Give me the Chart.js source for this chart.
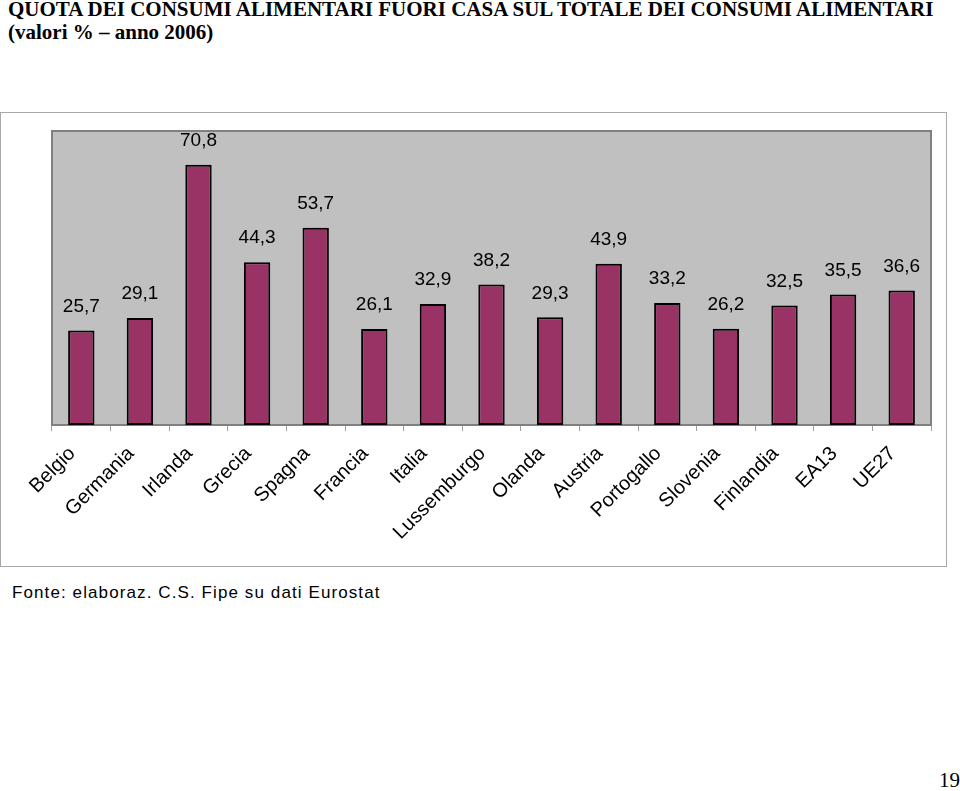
<!DOCTYPE html>
<html>
<head>
<meta charset="utf-8">
<script src="https://cdn.jsdelivr.net/npm/chart.js@4.4.1/dist/chart.umd.min.js"></script>
<style>
    html, body { margin: 0; padding: 0; background: #fff; }
    body { width: 960px; height: 791px; position: relative; overflow: hidden; }
    .title {
        position: absolute; left: 8px; top: -2px;
        font-family: "Liberation Serif", "Times New Roman", serif;
        font-weight: bold; font-size: 21px; line-height: 23px; color: #000;
        white-space: nowrap;
    }
    .box {
        position: absolute; left: 0px; top: 112px; width: 945px; height: 453px;
        border: 1px solid #a8a8a8;
    }
    .box canvas { display: block; }
    .fonte {
        position: absolute; left: 12px; top: 583px;
        font-family: "Liberation Sans", Arial, sans-serif;
        font-size: 17px; letter-spacing: 1.1px; color: #000; white-space: nowrap;
    }
    .pagina {
        position: absolute; left: 939px; top: 768px;
        font-family: "Liberation Serif", "Times New Roman", serif;
        font-size: 21px; color: #000;
    }
</style>
</head>
<body>
<div class="title">QUOTA DEI CONSUMI ALIMENTARI FUORI CASA SUL TOTALE DEI CONSUMI ALIMENTARI<br>(valori % &ndash; anno 2006)</div>
<div class="box"><canvas id="barChart" width="945" height="453"></canvas></div>
<div class="fonte">Fonte: elaboraz. C.S. Fipe su dati Eurostat</div>
<div class="pagina">19</div>

<script>
    // --- dati ---
    const paesi = ['Belgio', 'Germania', 'Irlanda', 'Grecia', 'Spagna', 'Francia', 'Italia',
        'Lussemburgo', 'Olanda', 'Austria', 'Portogallo', 'Slovenia', 'Finlandia', 'EA13', 'UE27'];
    const quote = [25.7, 29.1, 70.8, 44.3, 53.7, 26.1, 32.9, 38.2, 29.3, 43.9, 33.2, 26.2, 32.5, 35.5, 36.6];
    const etichette = ['25,7', '29,1', '70,8', '44,3', '53,7', '26,1', '32,9', '38,2', '29,3', '43,9',
        '33,2', '26,2', '32,5', '35,5', '36,6'];

    // sfondo grigio dell'area del grafico
    const sfondoArea = {
        id: 'sfondoArea',
        beforeDraw(chart) {
            const a = chart.chartArea;
            const ctx = chart.ctx;
            ctx.save();
            ctx.fillStyle = '#c0c0c0';
            ctx.fillRect(a.left, a.top, a.right - a.left, a.bottom - a.top);
            ctx.strokeStyle = '#808080';
            ctx.lineWidth = 2;
            ctx.beginPath();
            ctx.moveTo(a.left, a.bottom);
            ctx.lineTo(a.left, a.top);
            ctx.lineTo(a.right, a.top);
            ctx.lineTo(a.right, a.bottom);
            ctx.stroke();
            ctx.restore();
        }
    };

    // valori sopra le barre
    const valori = {
        id: 'valori',
        afterDatasetsDraw(chart) {
            const ctx = chart.ctx;
            const meta = chart.getDatasetMeta(0);
            ctx.save();
            ctx.font = '19px "Liberation Sans", Arial, sans-serif';
            ctx.fillStyle = '#000';
            ctx.textAlign = 'center';
            ctx.textBaseline = 'middle';
            meta.data.forEach((bar, i) => {
                ctx.fillText(etichette[i], bar.x, bar.y - 24);
            });
            ctx.restore();
        }
    };

    const ctx = document.getElementById('barChart').getContext('2d');
    new Chart(ctx, {
        type: 'bar',
        data: {
            labels: paesi,
            datasets: [{
                data: quote,
                backgroundColor: '#993366',
                borderColor: '#000000',
                borderWidth: 2,
                borderSkipped: false,
                barPercentage: 0.45,
                categoryPercentage: 1
            }]
        },
        options: {
            responsive: false,
            animation: false,
            layout: { padding: { left: 51, right: 15, top: 18, bottom: 0 } },
            scales: {
                y: { display: false, min: 0, max: 80 },
                x: {
                    afterFit: (scale) => { scale.height = 141; },
                    border: { color: '#808080', width: 2 },
                    grid: { drawOnChartArea: false, drawTicks: true, tickLength: 6, color: '#a0a0a0', offset: true },
                    ticks: {
                        color: '#000',
                        font: { family: '"Liberation Sans", Arial, sans-serif', size: 20 },
                        minRotation: 45,
                        maxRotation: 45,
                        padding: 11,
                        labelOffset: -9,
                        autoSkip: false
                    }
                }
            },
            plugins: { legend: { display: false }, tooltip: { enabled: false } }
        },
        plugins: [sfondoArea, valori]
    });
</script>
</body>
</html>
